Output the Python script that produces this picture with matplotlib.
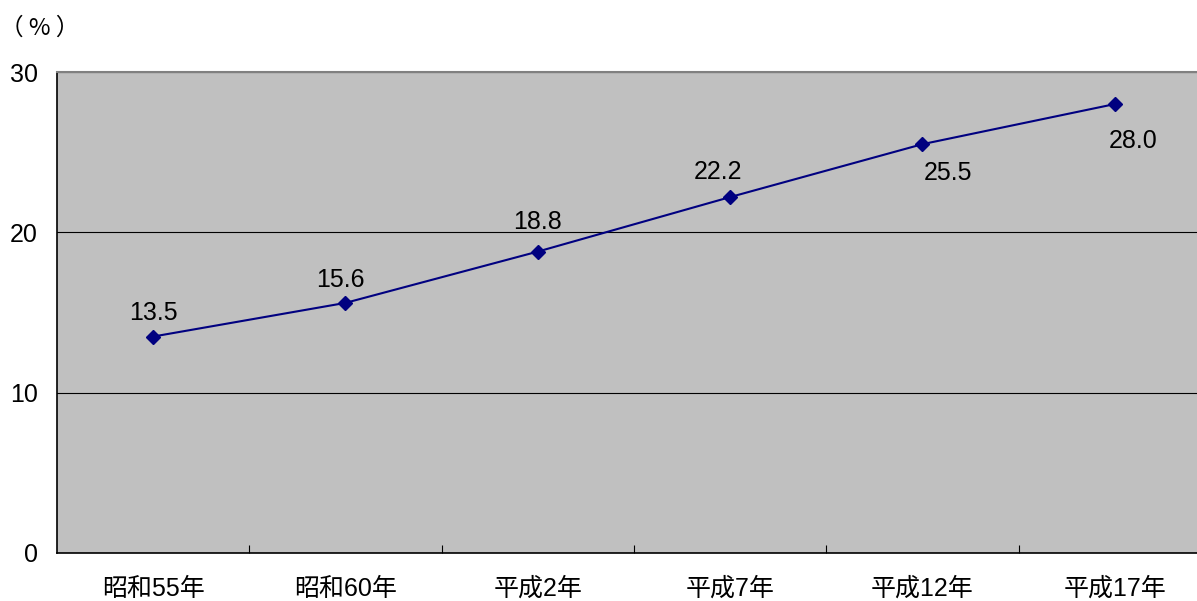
import matplotlib.pyplot as plt
import numpy as np

plt.rcParams['font.family'] = ['Liberation Sans', 'Noto Sans CJK JP', 'DejaVu Sans']

# data
categories = ['昭和55年', '昭和60年', '平成2年', '平成7年', '平成12年', '平成17年']
values = [13.5, 15.6, 18.8, 22.2, 25.5, 28.0]

# label offsets from the marker, in pixels (dx, dy up)
label_offsets = [(0, 24), (-5, 23), (0, 30), (-12, 25), (26, -29), (18, -37)]

fig = plt.figure(figsize=(11.97, 6.01), dpi=100)
ax = fig.add_axes([57 / 1197, 48 / 601, 1154 / 1197, 481 / 601])
ax.set_facecolor('#c0c0c0')

x = np.arange(len(categories))
ax.plot(x, values, color='#000080', linewidth=1.5, marker='D', markersize=7,
        markerfacecolor='#000080', markeredgecolor='#000080', zorder=3)

for xi, v, (dx, dy) in zip(x, values, label_offsets):
    ax.annotate(f'{v:.1f}', (xi, v), xytext=(dx * 0.72, dy * 0.72),
                textcoords='offset points', ha='center', va='center', fontsize=18)

ax.set_xlim(-0.5, len(categories) - 0.5)
ax.set_ylim(0, 30)
ax.set_yticks([0, 10, 20, 30])
ax.yaxis.grid(True, color='black', linewidth=0.8)
ax.set_axisbelow(True)

ax.set_xticks(x)
ax.set_xticklabels(categories, fontsize=18)
ax.set_xticks(np.arange(0.5, len(categories) - 0.5, 1), minor=True)
ax.tick_params(axis='x', which='major', length=0, pad=17)
ax.tick_params(axis='x', which='minor', length=6, direction='in', width=0.8)
ax.tick_params(axis='y', length=0, pad=14, labelsize=18)

ax.spines['top'].set_color('#808080')
ax.spines['top'].set_linewidth(1.5)
ax.spines['right'].set_visible(False)
ax.spines['left'].set_color('black')
ax.spines['bottom'].set_color('black')
ax.spines['left'].set_linewidth(1.2)
ax.spines['bottom'].set_linewidth(1.2)

fig.text(40 / 1197, 1 - 28 / 601, '（ % ）', ha='center', va='center', fontsize=17,
         family=['Noto Sans CJK JP', 'DejaVu Sans'])

fig.savefig('out.png', dpi=100)
